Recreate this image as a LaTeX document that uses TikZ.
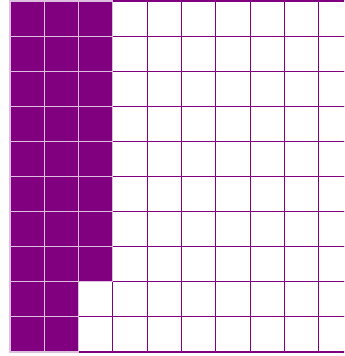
\documentclass[tikz,border=0pt]{standalone}
\definecolor{grape}{HTML}{800080}
\begin{document}
\begin{tikzpicture}[x=1.029cm, y=-1.053cm,
	cell/.style={draw=grape, line width=0.9pt},
	shaded/.style={fill=grape, draw=grape!25, line width=0.9pt}]
	\clip (-0.2915,-0.0285) rectangle (9.7376,10.114);
	\foreach \c in {0,...,9} \foreach \r in {0,...,9} \draw[cell] (\c,\r) rectangle ++(1,1);
	\foreach \c in {0,1,2} \foreach \r in {0,...,7} \draw[shaded] (\c,\r) rectangle ++(1,1);
	\foreach \c in {0,1} \foreach \r in {8,9} \draw[shaded] (\c,\r) rectangle ++(1,1);
\end{tikzpicture}
\end{document}
